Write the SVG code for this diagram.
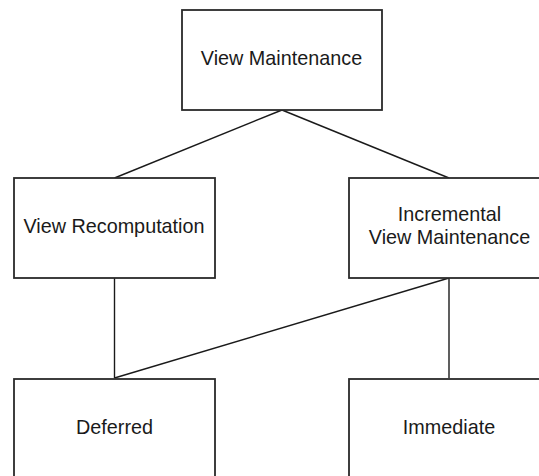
<svg xmlns="http://www.w3.org/2000/svg" width="539" height="476" viewBox="0 0 539 476">
  <style>
    .box { fill: #ffffff; stroke: #2a2a2a; stroke-width: 1.8; }
    .edge { fill: none; stroke: #1a1a1a; stroke-width: 1.4; }
    .label { font-family: "Liberation Sans", Arial, sans-serif; font-size: 19.8px; fill: #1a1a1a; text-anchor: middle; }
  </style>
  <rect width="539" height="476" fill="#ffffff"/>
  <g id="connectors">
    <line class="edge" x1="282" y1="110" x2="114.5" y2="178"/>
    <line class="edge" x1="282" y1="110" x2="449" y2="178"/>
    <line class="edge" x1="114.5" y1="278" x2="114.5" y2="378"/>
    <line class="edge" x1="114.5" y1="378" x2="449" y2="278"/>
    <line class="edge" x1="449" y1="278" x2="449" y2="378"/>
  </g>
  <g id="view-maintenance">
    <rect class="box" x="182" y="10" width="200" height="100"/>
    <text class="label" x="281.5" y="64.5">View Maintenance</text>
  </g>
  <g id="view-recomputation">
    <rect class="box" x="14" y="178" width="201" height="100"/>
    <text class="label" x="114" y="232.5">View Recomputation</text>
  </g>
  <g id="incremental-view-maintenance">
    <rect class="box" x="349" y="178" width="201" height="100"/>
    <text class="label" x="449.5" y="220.5">Incremental</text>
    <text class="label" x="449.5" y="244">View Maintenance</text>
  </g>
  <g id="deferred">
    <rect class="box" x="14" y="379" width="201" height="100"/>
    <text class="label" x="114.5" y="433.5">Deferred</text>
  </g>
  <g id="immediate">
    <rect class="box" x="349" y="379" width="201" height="100"/>
    <text class="label" x="449" y="433.5">Immediate</text>
  </g>
</svg>
